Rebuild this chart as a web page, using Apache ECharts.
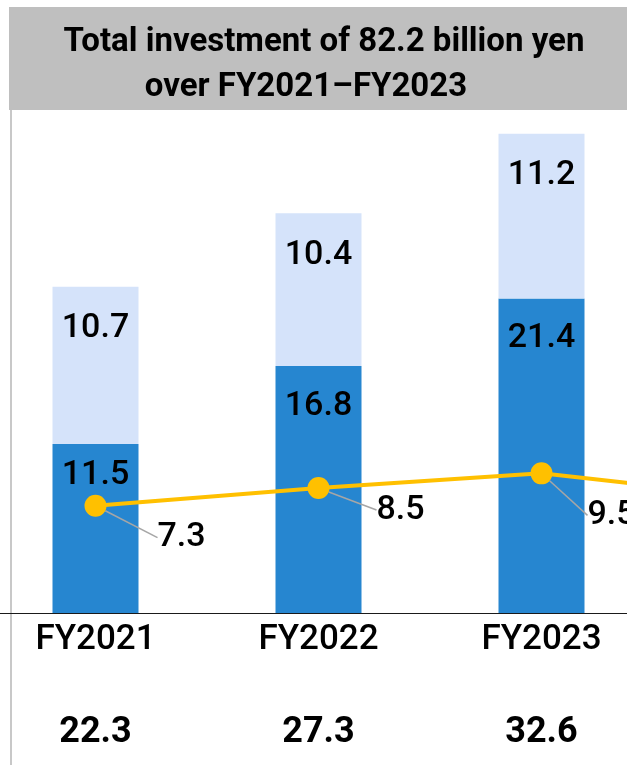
<!DOCTYPE html>
<html>
<head>
<meta charset="utf-8">
<script src="https://cdn.jsdelivr.net/npm/echarts@6/dist/echarts.min.js"></script>
<style>
html,body{margin:0;padding:0;background:#fff;overflow:hidden;width:627px;height:765px;position:relative;}
#chart{position:absolute;left:-16px;top:0;width:892px;height:765px;}
</style>
</head>
<body>
<div id="chart"></div>
<script>
// ---- data ----
const categories = ['FY2021', 'FY2022', 'FY2023', 'FY2024'];
const lowerValues = [11.5, 16.8, 21.4, null];   // dark blue segment
const upperValues = [10.7, 10.4, 11.2, null];   // light blue segment
const lineValues  = [7.3, 8.5, 9.5, 7.8];       // gold line (last point off-picture, estimated)
const totals      = ['22.3', '27.3', '32.6'];   // totals shown under the axis
const titleLines  = ['Total investment of 82.2 billion yen', 'over FY2021\u2013FY2023'];

// ---- layout helpers (not data) ----
const SHIFT = 16; // chart canvas starts 16px left of the page
const lineLabelOffsets = [[62, 32], [58, 22], [46, 42], [40, 30]];
const FONT = 'Roboto, "Liberation Sans", sans-serif';

const chart = echarts.init(document.getElementById('chart'), null, {renderer: 'canvas'});

const lowerData = lowerValues.map((v, i) => i === 0 ? {value: v, label: {distance: 15}} : v);
const lineData = lineValues.map((v, i) => i >= totals.length ? {value: v, label: {show: false}, labelLine: {show: false}} : v);

const option = {
  animation: false,
  backgroundColor: '#ffffff',
  grid: {left: 0, right: 0, top: 98.5, bottom: 152, containLabel: false},
  xAxis: {
    type: 'category',
    data: categories,
    axisLine: {show: true, lineStyle: {color: '#1a1a1a', width: 1}},
    axisTick: {show: false},
    splitLine: {show: false},
    axisLabel: {
      margin: 7,
      interval: 0,
      formatter: function (val, idx) {
        if (idx >= totals.length) return '';
        return '{a|' + val + '}\n{b|' + totals[idx] + '}';
      },
      rich: {
        a: {fontFamily: FONT, fontSize: 35, fontWeight: 500, color: '#000', lineHeight: 40},
        b: {fontFamily: FONT, fontSize: 36, fontWeight: 'bold', color: '#000', lineHeight: 146}
      }
    }
  },
  yAxis: {type: 'value', min: 0, max: 35, show: false, splitLine: {show: false}},
  series: [
    {
      name: 'lower', type: 'bar', stack: 'total', barWidth: 86,
      data: lowerData,
      itemStyle: {color: '#2686D0'},
      label: {show: true, position: 'insideTop', distance: 23, color: '#000', fontSize: 34, fontWeight: 500, fontFamily: FONT},
      z: 2
    },
    {
      name: 'upper', type: 'bar', stack: 'total', barWidth: 86,
      data: upperValues,
      itemStyle: {color: '#D5E3FA'},
      label: {show: true, position: 'insideTop', distance: 25, color: '#000', fontSize: 34, fontWeight: 500, fontFamily: FONT},
      z: 2
    },
    {
      name: 'line', type: 'line',
      data: lineData,
      symbol: 'circle', symbolSize: 22,
      lineStyle: {color: '#FFC000', width: 4},
      itemStyle: {color: '#FFC000'},
      label: {show: true, position: 'right', color: '#000', fontSize: 34, fontWeight: 500, fontFamily: FONT},
      labelLine: {show: true, lineStyle: {color: '#A6A6A6', width: 1.5}},
      labelLayout: function (params) {
        const off = lineLabelOffsets[params.dataIndex] || [40, 30];
        const cx = params.rect.x + params.rect.width / 2;
        const cy = params.rect.y + params.rect.height / 2;
        const lx = cx + off[0];
        const ly = cy + off[1];
        return {
          x: lx, y: ly, align: 'left', verticalAlign: 'middle',
          labelLinePoints: [[cx, cy], [lx - 20, ly], [lx - 10, ly]]
        };
      },
      z: 5
    }
  ],
  graphic: [
    {type: 'rect', shape: {x: 9 + SHIFT, y: 7, width: 700, height: 103}, style: {fill: '#BFBFBF'}, silent: true, z: 0},
    {type: 'rect', shape: {x: 10 + SHIFT, y: 110, width: 2, height: 660}, style: {fill: '#C8C8C8'}, silent: true, z: 0},
    {type: 'text', x: 324 + SHIFT, y: 43, style: {text: titleLines[0], fill: '#000', font: 'bold 33px ' + FONT, textAlign: 'center', textVerticalAlign: 'middle'}, silent: true, z: 1},
    {type: 'text', x: 306 + SHIFT, y: 88, style: {text: titleLines[1], fill: '#000', font: 'bold 33px ' + FONT, textAlign: 'center', textVerticalAlign: 'middle'}, silent: true, z: 1}
  ]
};
chart.setOption(option);
</script>
</body>
</html>
